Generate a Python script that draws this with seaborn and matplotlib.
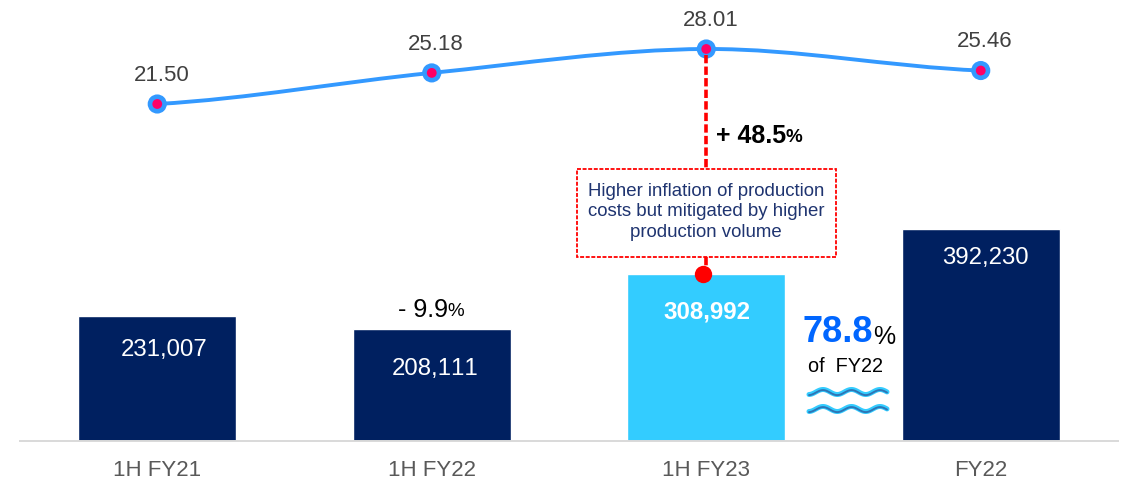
import numpy as np
import matplotlib.pyplot as plt
import seaborn as sns
from matplotlib.patches import PathPatch, Rectangle
from matplotlib.path import Path
from matplotlib.transforms import Affine2D

# Chart values
categories = ['1H FY21', '1H FY22', '1H FY23', 'FY22']
volumes = [231007, 208111, 308992, 392230]
costs = [21.50, 25.18, 28.01, 25.46]
cost_labels = ['21.50', '25.18', '28.01', '25.46']
bar_colors = ['#002060', '#002060', '#33CCFF', '#002060']

RED = '#FF0000'

sns.set_theme(style='white')
plt.rcParams['font.family'] = ['Liberation Sans', 'DejaVu Sans']
plt.rcParams['text.kerning_factor'] = 6

fig = plt.figure(figsize=(11.3, 4.8), dpi=100)
ax = fig.add_axes([20 / 1130, 39 / 480, 1098 / 1130, 441 / 480])

# Bars
sns.barplot(x=categories, y=volumes, hue=categories, palette=bar_colors, legend=False,
            saturation=1, width=0.574, ax=ax)
ax.set_xlim(-0.5, 3.5)
ax.set_ylim(0, 441 / 0.00054)
ax.set_yticks([])
ax.tick_params(axis='x', length=0, labelsize=16, labelcolor='#595959', pad=13.5)
sns.despine(ax=ax, left=True)
ax.spines['bottom'].set_color('#D9D9D9')
ax.spines['bottom'].set_linewidth(1.4)

# Line on a second axis
ax2 = ax.twinx()
ax2.set_ylim(21.5 - 337 / 8.45, 21.5 + 104 / 8.45)

# Smoothed line, catmull-rom control points taken from the values
xs = np.arange(len(costs), dtype=float)
ys = np.array(costs)
verts = [(xs[0], ys[0])]
codes = [Path.MOVETO]
for i in range(len(xs) - 1):
    y_prev = ys[max(i - 1, 0)]
    y_next = ys[min(i + 2, len(ys) - 1)]
    verts.append((xs[i] + 1 / 3, ys[i] + (ys[i + 1] - y_prev) / 6))
    verts.append((xs[i + 1] - 1 / 3, ys[i + 1] - (y_next - ys[i]) / 6))
    verts.append((xs[i + 1], ys[i + 1]))
    codes += [Path.CURVE4] * 3
ax2.add_patch(PathPatch(Path(verts, codes), fill=False, edgecolor='#3399FF', lw=2.8, zorder=3))

sns.scatterplot(x=xs, y=ys, s=190, color='#3399FF', edgecolor='none', zorder=4, ax=ax2)
sns.scatterplot(x=xs, y=ys, s=50, color='#FF0066', edgecolor='none', zorder=5, ax=ax2)
ax2.set_xlim(-0.5, 3.5)
ax2.axis('off')

for x, y, label in zip(xs, ys, cost_labels):
    ax2.annotate(label, (x, y), xytext=(3, 13), textcoords='offset points', ha='center',
                 va='bottom', fontsize=16, color='#404040')

# Pixel coordinates for the callouts
px = Affine2D().scale(1 / 1130, -1 / 480).translate(0, 1) + fig.transFigure


def note(x, y, s, **kw):
    kw.setdefault('ha', 'center')
    kw.setdefault('va', 'center')
    fig.text(x, y, s, transform=px, **kw)


# Bar labels
note(164, 350, '231,007', fontsize=17.3, color='white')
note(435, 369, '208,111', fontsize=17.3, color='white')
note(707, 312, '308,992', fontsize=17.3, color='white', fontweight='bold')
note(985, 258, '392,230', fontsize=17.3, color='white')

# Dashed connector and text box
fig.add_artist(plt.Line2D([706, 706], [55, 168], transform=px, color=RED, lw=2.6,
                          dashes=(2.3, 0.9), zorder=2))
fig.add_artist(plt.Line2D([706, 706], [257, 272], transform=px, color=RED, lw=2.6,
                          dashes=(2.3, 0.9), zorder=2))
fig.add_artist(Rectangle((576.5, 168.5), 259, 88, transform=px, fill=False, edgecolor=RED,
                         lw=1.3, linestyle=(0, (2.2, 0.9))))
fig.add_artist(plt.Line2D([703], [274], transform=px, marker='o', ms=12.5, color=RED, mew=0))
note(706, 212, 'Higher inflation of production\ncosts but mitigated by higher\nproduction volume',
     fontsize=13.4, color='#1F3470', linespacing=1.26)

note(716, 136, '+ 48.5', ha='left', fontsize=18, color='black', fontweight='bold')
note(786, 138, '%', ha='left', fontsize=13.5, color='black', fontweight='bold')
note(398, 310, '- 9.9', ha='left', fontsize=18, color='black')
note(447, 312, '%', ha='left', fontsize=13.5, color='black')

note(803, 333, '78.8', ha='left', fontsize=26, color='#0066FF', fontweight='bold')
note(873, 337, '%', ha='left', fontsize=18, color='black')
note(845, 366, 'of  FY22', fontsize=14.3, color='black')

# Wave icon
wave_x = np.linspace(809, 887, 120)
for base in (392, 409):
    wave_y = base - 2.5 * np.cos(2 * np.pi * (wave_x - 823) / 28.5)
    fig.add_artist(plt.Line2D(wave_x, wave_y, transform=px, color='#33CCFF', lw=3.6))
    fig.add_artist(plt.Line2D(wave_x, wave_y + 0.6, transform=px, color='#2E75B6', lw=1.4))

fig.savefig('out.png', dpi=100)
